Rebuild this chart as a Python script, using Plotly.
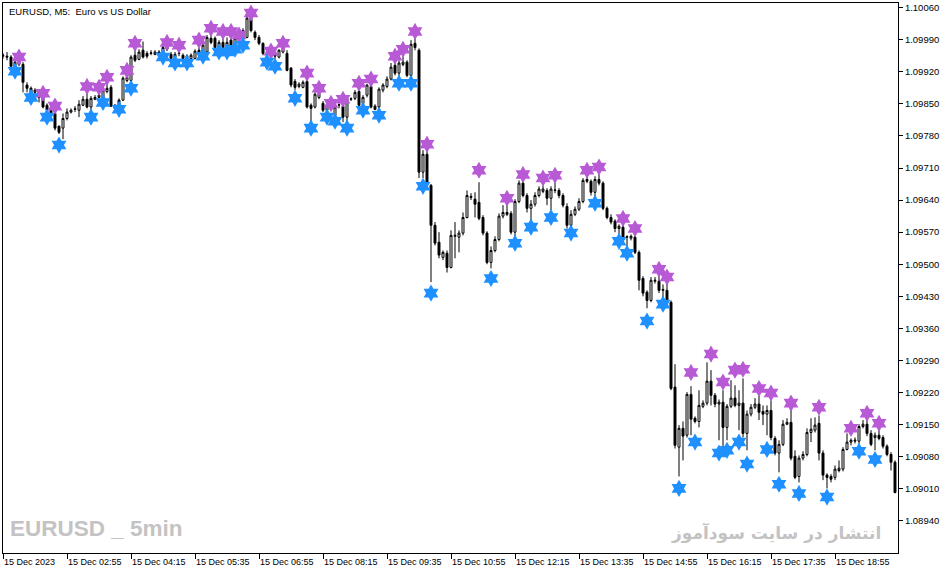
import plotly.graph_objects as go

# EURUSD M5, 15 Dec 2023, one entry per bar (224 bars)
OPEN = [
    1.09954, 1.09954, 1.09952, 1.09932, 1.09941, 1.09936, 1.09891, 1.09884, 1.09875, 1.09880,
    1.09864, 1.09847, 1.09836, 1.09829, 1.09801, 1.09797, 1.09818, 1.09832, 1.09838, 1.09836,
    1.09847, 1.09860, 1.09843, 1.09860, 1.09864, 1.09858, 1.09877, 1.09886, 1.09847, 1.09858,
    1.09858, 1.09901, 1.09901, 1.09956, 1.09947, 1.09967, 1.09960, 1.09960, 1.09958, 1.09963,
    1.09960, 1.09969, 1.09958, 1.09952, 1.09960, 1.09956, 1.09952, 1.09949, 1.09949, 1.09967,
    1.09963, 1.09963, 1.09993, 1.09993, 1.09973, 1.09984, 1.09976, 1.09989, 1.09973, 1.09995,
    1.09993, 1.09995, 1.10037, 1.10006, 1.09995, 1.09982, 1.09960, 1.09956, 1.09960, 1.09952,
    1.09963, 1.09960, 1.09928, 1.09899, 1.09888, 1.09886, 1.09899, 1.09847, 1.09843, 1.09864,
    1.09851, 1.09836, 1.09845, 1.09825, 1.09847, 1.09845, 1.09821, 1.09860, 1.09862, 1.09877,
    1.09851, 1.09869, 1.09888, 1.09845, 1.09843, 1.09880, 1.09888, 1.09904, 1.09934, 1.09917,
    1.09936, 1.09941, 1.09912, 1.09982, 1.09967, 1.09701, 1.09740, 1.09672, 1.09585, 1.09548,
    1.09515, 1.09524, 1.09493, 1.09561, 1.09559, 1.09568, 1.09602, 1.09648, 1.09642, 1.09635,
    1.09602, 1.09568, 1.09504, 1.09530, 1.09554, 1.09605, 1.09613, 1.09611, 1.09570, 1.09637,
    1.09677, 1.09650, 1.09622, 1.09631, 1.09650, 1.09659, 1.09661, 1.09644, 1.09661, 1.09661,
    1.09650, 1.09626, 1.09585, 1.09609, 1.09620, 1.09637, 1.09685, 1.09681, 1.09657, 1.09685,
    1.09677, 1.09622, 1.09602, 1.09594, 1.09578, 1.09581, 1.09559, 1.09557, 1.09559, 1.09526,
    1.09469, 1.09439, 1.09421, 1.09463, 1.09463, 1.09443, 1.09443, 1.09417, 1.09232, 1.09101,
    1.09142, 1.09127, 1.09216, 1.09164, 1.09157, 1.09190, 1.09197, 1.09245, 1.09214, 1.09195,
    1.09199, 1.09144, 1.09190, 1.09208, 1.09192, 1.09197, 1.09131, 1.09173, 1.09188, 1.09195,
    1.09179, 1.09173, 1.09181, 1.09120, 1.09088, 1.09107, 1.09151, 1.09155, 1.09081, 1.09037,
    1.09077, 1.09085, 1.09133, 1.09138, 1.09153, 1.09088, 1.09040, 1.09037, 1.09035, 1.09050,
    1.09053, 1.09096, 1.09112, 1.09114, 1.09114, 1.09146, 1.09151, 1.09131, 1.09122, 1.09127,
    1.09122, 1.09103, 1.09085, 1.09068,
]
HIGH = [
    1.09960, 1.09963, 1.09956, 1.09945, 1.09945, 1.09941, 1.09897, 1.09888, 1.09884, 1.09882,
    1.09869, 1.09851, 1.09840, 1.09834, 1.09803, 1.09829, 1.09840, 1.09840, 1.09845, 1.09858,
    1.09867, 1.09873, 1.09867, 1.09869, 1.09875, 1.09884, 1.09897, 1.09891, 1.09849, 1.09862,
    1.09910, 1.09915, 1.09956, 1.09967, 1.09969, 1.09986, 1.09965, 1.09967, 1.09967, 1.09967,
    1.09978, 1.09976, 1.09963, 1.09963, 1.09967, 1.09960, 1.09958, 1.09960, 1.09969, 1.09973,
    1.09982, 1.10000, 1.10004, 1.09997, 1.09989, 1.09995, 1.09995, 1.09995, 1.09997, 1.10000,
    1.10015, 1.10041, 1.10039, 1.10010, 1.10000, 1.09984, 1.09967, 1.09967, 1.09965, 1.09969,
    1.09976, 1.09967, 1.09930, 1.09904, 1.09897, 1.09901, 1.09906, 1.09851, 1.09875, 1.09873,
    1.09856, 1.09851, 1.09849, 1.09847, 1.09851, 1.09847, 1.09867, 1.09864, 1.09880, 1.09882,
    1.09869, 1.09893, 1.09891, 1.09849, 1.09886, 1.09895, 1.09910, 1.09939, 1.09941, 1.09945,
    1.09954, 1.09945, 1.09989, 1.09993, 1.09971, 1.09749, 1.09749, 1.09675, 1.09592, 1.09570,
    1.09530, 1.09530, 1.09574, 1.09592, 1.09574, 1.09613, 1.09661, 1.09655, 1.09657, 1.09679,
    1.09607, 1.09572, 1.09539, 1.09561, 1.09611, 1.09629, 1.09629, 1.09616, 1.09642, 1.09683,
    1.09681, 1.09655, 1.09640, 1.09657, 1.09670, 1.09672, 1.09666, 1.09670, 1.09679, 1.09666,
    1.09655, 1.09633, 1.09618, 1.09626, 1.09644, 1.09688, 1.09692, 1.09685, 1.09692, 1.09696,
    1.09681, 1.09626, 1.09609, 1.09598, 1.09587, 1.09585, 1.09563, 1.09565, 1.09563, 1.09530,
    1.09474, 1.09443, 1.09472, 1.09472, 1.09474, 1.09456, 1.09458, 1.09421, 1.09282, 1.09149,
    1.09157, 1.09221, 1.09234, 1.09168, 1.09225, 1.09203, 1.09286, 1.09269, 1.09219, 1.09205,
    1.09225, 1.09195, 1.09247, 1.09236, 1.09225, 1.09251, 1.09181, 1.09195, 1.09208, 1.09214,
    1.09192, 1.09192, 1.09203, 1.09125, 1.09116, 1.09160, 1.09164, 1.09188, 1.09094, 1.09083,
    1.09092, 1.09142, 1.09164, 1.09166, 1.09170, 1.09094, 1.09044, 1.09042, 1.09061, 1.09072,
    1.09101, 1.09131, 1.09120, 1.09122, 1.09151, 1.09160, 1.09160, 1.09138, 1.09133, 1.09138,
    1.09127, 1.09107, 1.09090, 1.09072,
]
LOW = [
    1.09949, 1.09945, 1.09928, 1.09928, 1.09932, 1.09875, 1.09875, 1.09869, 1.09871, 1.09853,
    1.09840, 1.09832, 1.09827, 1.09792, 1.09784, 1.09773, 1.09814, 1.09829, 1.09832, 1.09821,
    1.09845, 1.09840, 1.09836, 1.09858, 1.09862, 1.09853, 1.09873, 1.09843, 1.09836, 1.09840,
    1.09856, 1.09897, 1.09897, 1.09941, 1.09945, 1.09949, 1.09949, 1.09956, 1.09956, 1.09954,
    1.09958, 1.09965, 1.09945, 1.09949, 1.09954, 1.09945, 1.09947, 1.09945, 1.09947, 1.09956,
    1.09958, 1.09960, 1.09980, 1.09971, 1.09969, 1.09971, 1.09973, 1.09971, 1.09971, 1.09984,
    1.09989, 1.09993, 1.10006, 1.09989, 1.09978, 1.09956, 1.09949, 1.09952, 1.09947, 1.09949,
    1.09960, 1.09921, 1.09886, 1.09880, 1.09884, 1.09884, 1.09840, 1.09808, 1.09840, 1.09860,
    1.09832, 1.09834, 1.09834, 1.09823, 1.09840, 1.09810, 1.09812, 1.09856, 1.09858, 1.09843,
    1.09849, 1.09864, 1.09840, 1.09836, 1.09838, 1.09875, 1.09884, 1.09901, 1.09912, 1.09908,
    1.09932, 1.09908, 1.09908, 1.09967, 1.09688, 1.09688, 1.09675, 1.09461, 1.09541, 1.09513,
    1.09509, 1.09482, 1.09491, 1.09513, 1.09526, 1.09563, 1.09600, 1.09640, 1.09602, 1.09596,
    1.09563, 1.09500, 1.09491, 1.09526, 1.09550, 1.09600, 1.09605, 1.09565, 1.09561, 1.09633,
    1.09646, 1.09613, 1.09596, 1.09626, 1.09646, 1.09655, 1.09629, 1.09618, 1.09655, 1.09644,
    1.09624, 1.09578, 1.09578, 1.09605, 1.09616, 1.09633, 1.09677, 1.09650, 1.09648, 1.09672,
    1.09618, 1.09598, 1.09587, 1.09570, 1.09565, 1.09554, 1.09539, 1.09552, 1.09522, 1.09443,
    1.09430, 1.09404, 1.09417, 1.09458, 1.09437, 1.09428, 1.09413, 1.09225, 1.09098, 1.09037,
    1.09072, 1.09122, 1.09127, 1.09153, 1.09144, 1.09186, 1.09192, 1.09192, 1.09188, 1.09116,
    1.09101, 1.09116, 1.09186, 1.09188, 1.09138, 1.09122, 1.09094, 1.09168, 1.09184, 1.09160,
    1.09149, 1.09127, 1.09116, 1.09083, 1.09046, 1.09103, 1.09149, 1.09072, 1.09031, 1.09024,
    1.09072, 1.09081, 1.09112, 1.09133, 1.09072, 1.09029, 1.09011, 1.09024, 1.09029, 1.09046,
    1.09048, 1.09094, 1.09105, 1.09109, 1.09107, 1.09142, 1.09125, 1.09103, 1.09094, 1.09116,
    1.09098, 1.09081, 1.09050, 1.09000,
]
CLOSE = [
    1.09956, 1.09952, 1.09932, 1.09941, 1.09936, 1.09897, 1.09884, 1.09873, 1.09880, 1.09864,
    1.09843, 1.09836, 1.09829, 1.09797, 1.09788, 1.09818, 1.09832, 1.09836, 1.09839, 1.09849,
    1.09860, 1.09843, 1.09862, 1.09864, 1.09869, 1.09880, 1.09884, 1.09845, 1.09840, 1.09845,
    1.09906, 1.09908, 1.09952, 1.09945, 1.09963, 1.09952, 1.09954, 1.09961, 1.09963, 1.09958,
    1.09973, 1.09973, 1.09949, 1.09958, 1.09961, 1.09949, 1.09954, 1.09956, 1.09965, 1.09960,
    1.09978, 1.09995, 1.09984, 1.09973, 1.09984, 1.09973, 1.09984, 1.09973, 1.09993, 1.09989,
    1.10010, 1.10037, 1.10010, 1.09995, 1.09982, 1.09960, 1.09956, 1.09963, 1.09954, 1.09967,
    1.09971, 1.09923, 1.09891, 1.09886, 1.09893, 1.09897, 1.09843, 1.09840, 1.09871, 1.09871,
    1.09836, 1.09847, 1.09838, 1.09843, 1.09848, 1.09821, 1.09862, 1.09861, 1.09875, 1.09847,
    1.09864, 1.09891, 1.09843, 1.09838, 1.09882, 1.09891, 1.09904, 1.09930, 1.09917, 1.09939,
    1.09941, 1.09912, 1.09980, 1.09973, 1.09701, 1.09740, 1.09677, 1.09585, 1.09546, 1.09520,
    1.09526, 1.09493, 1.09563, 1.09563, 1.09568, 1.09602, 1.09650, 1.09646, 1.09631, 1.09600,
    1.09568, 1.09504, 1.09530, 1.09554, 1.09605, 1.09613, 1.09609, 1.09570, 1.09637, 1.09677,
    1.09650, 1.09622, 1.09631, 1.09650, 1.09664, 1.09664, 1.09644, 1.09664, 1.09662, 1.09650,
    1.09629, 1.09585, 1.09609, 1.09620, 1.09637, 1.09683, 1.09681, 1.09657, 1.09685, 1.09677,
    1.09622, 1.09602, 1.09592, 1.09578, 1.09583, 1.09559, 1.09560, 1.09561, 1.09526, 1.09465,
    1.09437, 1.09421, 1.09465, 1.09465, 1.09443, 1.09445, 1.09417, 1.09229, 1.09105, 1.09142,
    1.09125, 1.09216, 1.09162, 1.09157, 1.09192, 1.09197, 1.09245, 1.09214, 1.09195, 1.09199,
    1.09144, 1.09190, 1.09208, 1.09192, 1.09197, 1.09131, 1.09173, 1.09188, 1.09195, 1.09177,
    1.09173, 1.09181, 1.09122, 1.09088, 1.09107, 1.09151, 1.09155, 1.09077, 1.09035, 1.09077,
    1.09085, 1.09133, 1.09140, 1.09149, 1.09088, 1.09040, 1.09035, 1.09031, 1.09053, 1.09055,
    1.09096, 1.09112, 1.09116, 1.09116, 1.09146, 1.09151, 1.09131, 1.09107, 1.09127, 1.09120,
    1.09103, 1.09085, 1.09068, 1.09002,
]

# indicator signals: bar index + price level
UP_BARS = [4, 10, 13, 21, 24, 26, 31, 33, 41, 44, 49, 52, 55, 57, 59, 62, 67, 70, 76, 79,
           82, 85, 89, 92, 98, 100, 103, 106, 119, 126, 130, 135, 138, 146, 149, 155, 158,
           164, 166, 172, 177, 180, 183, 185, 189, 192, 197, 204, 212, 216, 219]
UP_PRICE = [1.09952, 1.09873, 1.09845, 1.09888, 1.09886, 1.09908, 1.09923, 1.09982, 1.09984,
            1.09978, 1.09989, 1.10015, 1.10008, 1.10008, 1.10000, 1.10048, 1.09965, 1.09982,
            1.09917, 1.09884, 1.09851, 1.09860, 1.09895, 1.09904, 1.09954, 1.09969, 1.10008,
            1.09762, 1.09705, 1.09644, 1.09696, 1.09688, 1.09694, 1.09705, 1.09712, 1.09600,
            1.09578, 1.09489, 1.09472, 1.09264, 1.09304, 1.09243, 1.09269, 1.09271, 1.09229,
            1.09219, 1.09197, 1.09188, 1.09142, 1.09175, 1.09153]
DN_BARS = [3, 7, 11, 14, 22, 25, 29, 32, 40, 43, 46, 50, 54, 56, 58, 60, 66, 68, 73, 77,
           81, 83, 86, 90, 94, 99, 102, 105, 107, 122, 128, 132, 137, 142, 148, 154, 156,
           161, 165, 169, 173, 179, 181, 184, 186, 191, 194, 199, 206, 214, 218]
DN_PRICE = [1.09921, 1.09864, 1.09821, 1.09760, 1.09821, 1.09853, 1.09838, 1.09884, 1.09952,
            1.09939, 1.09939, 1.09954, 1.09963, 1.09963, 1.09969, 1.09978, 1.09941, 1.09932,
            1.09862, 1.09797, 1.09821, 1.09812, 1.09797, 1.09836, 1.09825, 1.09895, 1.09895,
            1.09670, 1.09437, 1.09469, 1.09546, 1.09581, 1.09602, 1.09568, 1.09633, 1.09550,
            1.09524, 1.09376, 1.09413, 1.09011, 1.09112, 1.09088, 1.09094, 1.09112, 1.09064,
            1.09096, 1.09020, 1.09000, 1.08992, 1.09092, 1.09074]

TIME_LABELS = ["15 Dec 2023", "15 Dec 02:55", "15 Dec 04:15", "15 Dec 05:35", "15 Dec 06:55",
               "15 Dec 08:15", "15 Dec 09:35", "15 Dec 10:55", "15 Dec 12:15", "15 Dec 13:35",
               "15 Dec 14:55", "15 Dec 16:15", "15 Dec 17:35", "15 Dec 18:55"]
PRICE_TICKS = [1.08940, 1.09010, 1.09080, 1.09150, 1.09220, 1.09290, 1.09360, 1.09430, 1.09500,
               1.09570, 1.09640, 1.09710, 1.09780, 1.09850, 1.09920, 1.09990, 1.10060]

bars = list(range(len(CLOSE)))
FONT = "Liberation Sans, Arial, sans-serif"

fig = go.Figure()

fig.add_trace(go.Candlestick(
    x=bars, open=OPEN, high=HIGH, low=LOW, close=CLOSE,
    increasing=dict(line=dict(color="black", width=1), fillcolor="white"),
    decreasing=dict(line=dict(color="black", width=1), fillcolor="black"),
    whiskerwidth=0,
    hoverinfo="skip",
))

fig.add_trace(go.Scatter(
    x=UP_BARS, y=UP_PRICE, mode="markers",
    marker=dict(symbol="hexagram", size=13, color="#b859d6", line=dict(width=0)),
    hoverinfo="skip",
))
fig.add_trace(go.Scatter(
    x=DN_BARS, y=DN_PRICE, mode="markers",
    marker=dict(symbol="hexagram", size=13, color="#1e90ff", line=dict(width=0)),
    hoverinfo="skip",
))

fig.update_layout(
    width=951, height=574,
    margin=dict(l=3, r=53, t=3, b=21),
    paper_bgcolor="white", plot_bgcolor="white",
    showlegend=False,
    font=dict(family=FONT, color="black"),
    xaxis=dict(
        range=[0, 223.75],
        rangeslider=dict(visible=False),
        tickvals=bars[::16], ticktext=TIME_LABELS,
        ticks="outside", ticklen=5, tickcolor="black",
        ticklabelposition="outside right",
        tickfont=dict(size=9, family=FONT, color="black"),
        showline=True, linecolor="black", linewidth=1, mirror=True,
        showgrid=False, zeroline=False,
    ),
    yaxis=dict(
        side="right",
        range=[1.08870, 1.10070],
        tickvals=PRICE_TICKS, ticktext=[f"{v:.5f}" for v in PRICE_TICKS],
        ticks="outside", ticklen=4, tickcolor="black",
        tickfont=dict(size=9.5, family=FONT, color="black"),
        showline=True, linecolor="black", linewidth=1, mirror=True,
        showgrid=False, zeroline=False,
    ),
    annotations=[
        dict(text="EURUSD, M5:\u00a0 Euro vs US Dollar", xref="paper", yref="paper",
             x=0.005, y=1, xanchor="left", yanchor="top", yshift=-1, showarrow=False,
             font=dict(size=9.5, family=FONT, color="black")),
        dict(text="<b>EURUSD _ 5min</b>", xref="paper", yref="paper",
             x=0.0056, y=0.044, xanchor="left", yanchor="middle", showarrow=False,
             font=dict(size=22.5, family=FONT, color="#c3c3c3")),
        dict(text="<b>انتشار در سایت سودآموز</b>", xref="paper", yref="paper",
             x=0.983, y=0.036, xanchor="right", yanchor="middle", showarrow=False,
             font=dict(size=17, family="DejaVu Sans", color="#c3c3c3")),
    ],
)

# page body has a default 8px margin; drop it so the figure fills the window
fig.write_html(
    "out.html",
    config={"displayModeBar": False},
    post_script="document.body.style.margin='0';document.body.style.overflow='hidden';",
)
